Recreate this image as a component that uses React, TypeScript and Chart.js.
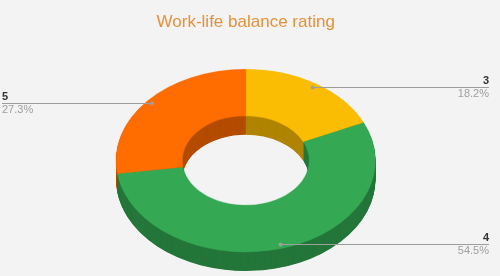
import React, { useEffect, useRef } from "react";
import { Chart, registerables } from "chart.js";

Chart.register(...registerables);

const chartTitle = "Work-life balance rating";
const ratings = ["3", "4", "5"];
const counts = [2, 6, 3];
const faceColors = ["#FBBC04", "#34A853", "#FF6D01"];
const sideColors = ["#B08403", "#24763A", "#B34C01"];

// Ring geometry on the page: centre of the top face, its outer radius,
// vertical squash of the tilted ring and the height of its walls.
const CENTER_X = 245.7;
const CENTER_Y = 160.6;
const RADIUS = 129.7;
const TILT = 0.704;
const DEPTH = 19;

const tiltedRing = {
  id: "tiltedRing",
  _saved: false,
  beforeDatasetsDraw(chart: any) {
    const ctx = chart.ctx;
    const arcs = chart.getDatasetMeta(0).data as any[];
    this._saved = false;
    if (!arcs.length) return;
    const { x, y } = arcs[0];
    ctx.save();
    this._saved = true;
    ctx.translate(CENTER_X, CENTER_Y);
    ctx.scale(1, TILT);
    ctx.translate(-x, -y);
    // walls: the ring's sectors stacked downwards in the darker shade
    for (let d = DEPTH; d > 0; d -= 0.5) {
      const dy = d / TILT;
      arcs.forEach((arc: any, i: number) => {
        const p = arc.getProps(["startAngle", "endAngle", "innerRadius", "outerRadius"]);
        ctx.fillStyle = sideColors[i];
        ctx.beginPath();
        ctx.arc(x, y + dy, p.outerRadius, p.startAngle, p.endAngle);
        ctx.arc(x, y + dy, p.innerRadius, p.endAngle, p.startAngle, true);
        ctx.closePath();
        ctx.fill();
      });
    }
  },
  afterDatasetsDraw(chart: any) {
    if (this._saved) chart.ctx.restore();
    this._saved = false;
  },
  afterDraw(chart: any) {
    const ctx = chart.ctx;
    const arcs = chart.getDatasetMeta(0).data as any[];
    const total = counts.reduce((a, b) => a + b, 0);

    ctx.save();
    ctx.fillStyle = "#E69138";
    ctx.font = "17px 'Liberation Sans', Arial, sans-serif";
    ctx.textAlign = "center";
    ctx.textBaseline = "alphabetic";
    ctx.fillText(chartTitle, CENTER_X, 26.7);

    arcs.forEach((arc: any, i: number) => {
      const p = arc.getProps(["startAngle", "endAngle", "outerRadius"]);
      const mid = (p.startAngle + p.endAngle) / 2;
      const r = p.outerRadius * 0.955;
      const px = CENTER_X + r * Math.cos(mid);
      const py = CENTER_Y + TILT * r * Math.sin(mid);
      const right = Math.cos(mid) >= 0;
      const lineY = Math.round(py) + 0.5;
      const xEnd = right ? 489 : 2;

      ctx.strokeStyle = "#9E9E9E";
      ctx.lineWidth = 1;
      ctx.beginPath();
      ctx.moveTo(px, lineY);
      ctx.lineTo(xEnd, lineY);
      ctx.stroke();
      ctx.fillStyle = "#9E9E9E";
      ctx.beginPath();
      ctx.arc(px, lineY, 2, 0, Math.PI * 2);
      ctx.fill();

      ctx.textAlign = right ? "right" : "left";
      ctx.fillStyle = "#333333";
      ctx.font = "bold 11px 'Liberation Sans', Arial, sans-serif";
      ctx.fillText(ratings[i], xEnd, lineY - 3.5);
      ctx.fillStyle = "#9E9E9E";
      ctx.font = "11px 'Liberation Sans', Arial, sans-serif";
      ctx.fillText(((counts[i] / total) * 100).toFixed(1) + "%", xEnd, lineY + 9.5);
    });
    ctx.restore();
  },
};

export default function App() {
  const canvasRef = useRef<HTMLCanvasElement | null>(null);

  useEffect(() => {
    if (!canvasRef.current) return;
    const chart = new Chart(canvasRef.current, {
      type: "doughnut",
      data: {
        labels: ratings,
        datasets: [
          {
            data: counts,
            backgroundColor: faceColors,
            borderColor: faceColors,
            borderWidth: 0.5,
            clip: false,
          } as any,
        ],
      },
      options: {
        responsive: false,
        maintainAspectRatio: false,
        animation: false,
        events: [],
        radius: RADIUS,
        cutout: "49%",
        plugins: {
          legend: { display: false },
          tooltip: { enabled: false },
          title: { display: false },
        },
      } as any,
      plugins: [tiltedRing as any],
    });
    return () => chart.destroy();
  }, []);

  return (
    <div
      style={{
        position: "fixed",
        left: 0,
        top: 0,
        width: 500,
        height: 276,
        background: "#F3F3F3",
      }}
    >
      <canvas ref={canvasRef} width={500} height={276} style={{ display: "block" }} />
    </div>
  );
}
